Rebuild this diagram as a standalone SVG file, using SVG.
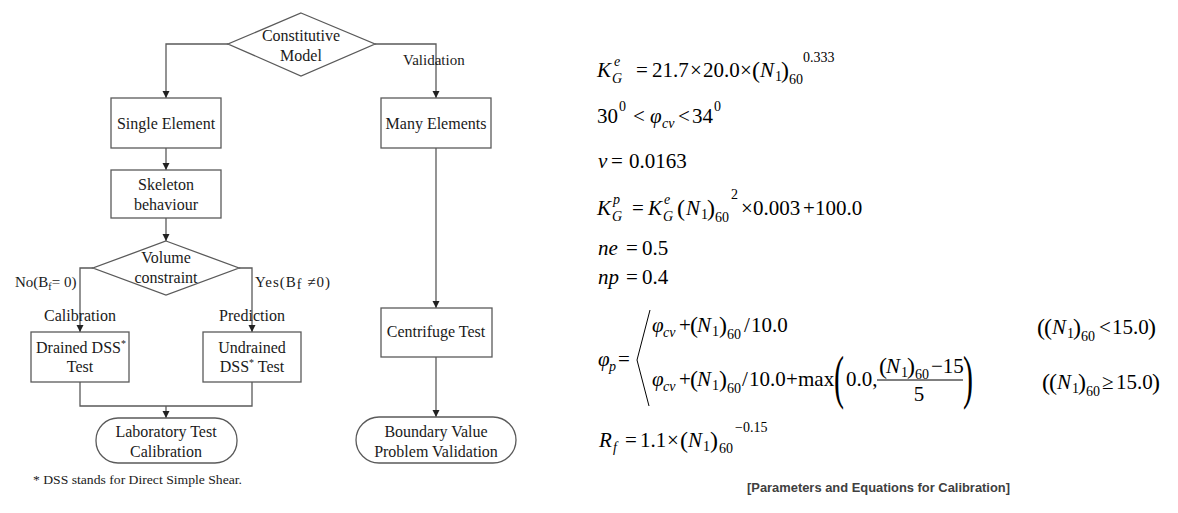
<svg xmlns="http://www.w3.org/2000/svg" width="1178" height="513" viewBox="0 0 1178 513">
<style>
.t{font-family:"Liberation Serif","Times New Roman",serif;font-size:16px;fill:#1a1a1a;text-anchor:middle}
.lbl{font-family:"Liberation Serif","Times New Roman",serif;font-size:15px;fill:#1a1a1a}
.box{fill:#fff;stroke:#5a5a5a;stroke-width:1.3}
.conn{fill:none;stroke:#5a5a5a;stroke-width:1.3}
.m{font-family:"Liberation Serif","Times New Roman",serif;font-size:21px;fill:#000}
.i{font-style:italic}
.s{font-size:14px}
.p{font-size:24px}
.big{font-size:60px}
.cap{font-family:"Liberation Sans",Arial,sans-serif;font-weight:bold;font-size:12.5px;fill:#404040}
</style>
<defs>
<marker id="ah" markerUnits="userSpaceOnUse" markerWidth="8" markerHeight="8" refX="7" refY="3.5" orient="auto">
<path d="M0,0 L7,3.5 L0,7 z" fill="#222"/>
</marker>
</defs>
<rect width="1178" height="513" fill="#fff"/>

<g id="connectors">
<path class="conn" d="M228,44 H166 V98" marker-end="url(#ah)"/>
<path class="conn" d="M375,44 H436 V98" marker-end="url(#ah)"/>
<path class="conn" d="M166,148 V170" marker-end="url(#ah)"/>
<path class="conn" d="M166,218 V241" marker-end="url(#ah)"/>
<path class="conn" d="M93,268 H80 V332" marker-end="url(#ah)"/>
<path class="conn" d="M239,268 H252 V332" marker-end="url(#ah)"/>
<path class="conn" d="M80,382 V406 H252 V382"/>
<path class="conn" d="M166,406 V418" marker-end="url(#ah)"/>
<path class="conn" d="M436,148 V308" marker-end="url(#ah)"/>
<path class="conn" d="M436,357 V417" marker-end="url(#ah)"/>
<text class="lbl" x="403" y="65">Validation</text>
<text class="lbl" x="15" y="287">No(B<tspan style="font-size:10px" dy="3">f</tspan><tspan dy="-3">= 0)</tspan></text>
<text class="lbl" x="255" y="287" textLength="75" lengthAdjust="spacing">Yes(B<tspan style="font-size:14px" dy="2">f</tspan><tspan dy="-2">  ≠0)</tspan></text>
<text class="t" x="80" y="321">Calibration</text>
<text class="t" x="252" y="321">Prediction</text>
</g>

<g id="n-constitutive">
<polygon class="box" points="301,13 375,44 301,76 228,44"/>
<text class="t" x="301" y="41">Constitutive</text>
<text class="t" x="301" y="61">Model</text>
</g>
<g id="n-single">
<rect class="box" x="111" y="98" width="110" height="50"/>
<text class="t" x="166" y="129">Single Element</text>
</g>
<g id="n-many">
<rect class="box" x="381" y="98" width="110" height="50"/>
<text class="t" x="436" y="129">Many Elements</text>
</g>
<g id="n-skeleton">
<rect class="box" x="111" y="170" width="110" height="48"/>
<text class="t" x="166" y="190">Skeleton</text>
<text class="t" x="166" y="210">behaviour</text>
</g>
<g id="n-volume">
<polygon class="box" points="166,241 239,268 166,295 93,268"/>
<text class="t" x="166" y="263">Volume</text>
<text class="t" x="166" y="283">constraint</text>
</g>
<g id="n-drained">
<rect class="box" x="31" y="332" width="98" height="50"/>
<text class="t" x="81" y="353">Drained DSS<tspan style="font-size:10px" dy="-6">*</tspan></text>
<text class="t" x="80" y="372">Test</text>
</g>
<g id="n-undrained">
<rect class="box" x="203" y="332" width="98" height="50"/>
<text class="t" x="252" y="353">Undrained</text>
<text class="t" x="252" y="372">DSS<tspan style="font-size:10px" dy="-6">*</tspan><tspan dy="6"> Test</tspan></text>
</g>
<g id="n-lab">
<rect class="box" x="96" y="418" width="141" height="45" rx="22" ry="22"/>
<text class="t" x="166" y="437">Laboratory Test</text>
<text class="t" x="166" y="457">Calibration</text>
</g>
<g id="n-centrifuge">
<rect class="box" x="381" y="308" width="111" height="49"/>
<text class="t" x="436" y="337">Centrifuge Test</text>
</g>
<g id="n-boundary">
<rect class="box" x="356" y="417" width="160" height="46" rx="23" ry="23"/>
<text class="t" x="436" y="437">Boundary Value</text>
<text class="t" x="436" y="457">Problem Validation</text>
</g>
<text x="33" y="484" textLength="209" lengthAdjust="spacingAndGlyphs" style="font-family:'Liberation Serif',serif;font-size:13px;fill:#1a1a1a">* DSS stands for Direct Simple Shear.</text>

<g id="equations">
<text class="m"><tspan class="i" x="597" y="77">K</tspan><tspan class="i s" x="612" y="83">G</tspan><tspan class="i s" x="614" y="66">e</tspan><tspan x="636" y="77">=</tspan><tspan x="652" y="77">21.7</tspan><tspan x="690" y="77">×</tspan><tspan x="703" y="77">20.0</tspan><tspan x="740" y="77">×</tspan><tspan class="p" x="752" y="78">(</tspan><tspan class="i" x="760" y="77">N</tspan><tspan class="s" x="775" y="81">1</tspan><tspan class="p" x="781" y="78">)</tspan><tspan class="s" x="789" y="84">60</tspan><tspan class="s" x="803" y="62">0.333</tspan></text>

<text class="m"><tspan x="597" y="123">30</tspan><tspan class="s" x="619" y="111">0</tspan><tspan x="633" y="123">&lt;</tspan><tspan class="i" x="650" y="123">φ</tspan><tspan class="i s" x="662" y="128">cv</tspan><tspan x="678" y="123">&lt;</tspan><tspan x="692" y="123">34</tspan><tspan class="s" x="714" y="111">0</tspan></text>

<text class="m"><tspan class="i" x="598" y="168">ν</tspan><tspan x="611" y="168">=</tspan><tspan x="629" y="168">0.0163</tspan></text>

<text class="m"><tspan class="i" x="597" y="215">K</tspan><tspan class="i s" x="613" y="204">p</tspan><tspan class="i s" x="612" y="221">G</tspan><tspan x="632" y="215">=</tspan><tspan class="i" x="648" y="215">K</tspan><tspan class="i s" x="664" y="204">e</tspan><tspan class="i s" x="663" y="221">G</tspan><tspan class="p" x="677" y="216">(</tspan><tspan class="i" x="686" y="215">N</tspan><tspan class="s" x="701" y="219">1</tspan><tspan class="p" x="707" y="216">)</tspan><tspan class="s" x="715" y="222">60</tspan><tspan class="s" x="731" y="199">2</tspan><tspan x="741" y="215">×</tspan><tspan x="753" y="215">0.003</tspan><tspan x="803" y="215">+</tspan><tspan x="815" y="215">100.0</tspan></text>

<text class="m"><tspan class="i" x="598" y="255">ne</tspan><tspan x="626" y="255">=</tspan><tspan x="642" y="255">0.5</tspan></text>
<text class="m"><tspan class="i" x="598" y="284">np</tspan><tspan x="626" y="284">=</tspan><tspan x="642" y="284">0.4</tspan></text>

<text class="m"><tspan class="i" x="598" y="366">φ</tspan><tspan class="i s" x="609" y="371">p</tspan><tspan x="618" y="366">=</tspan></text>
<polyline points="650,310 637,360 649,406" fill="none" stroke="#000" stroke-width="1"/>

<text class="m"><tspan class="i" x="652" y="332">φ</tspan><tspan class="i s" x="663" y="337">cv</tspan><tspan x="679" y="332">+</tspan><tspan class="p" x="690" y="333">(</tspan><tspan class="i" x="697" y="332">N</tspan><tspan class="s" x="712" y="336">1</tspan><tspan class="p" x="719" y="333">)</tspan><tspan class="s" x="727" y="339">60</tspan><tspan x="744" y="332">/</tspan><tspan x="751" y="332">10.0</tspan></text>

<text class="m"><tspan class="i" x="652" y="386">φ</tspan><tspan class="i s" x="663" y="391">cv</tspan><tspan x="679" y="386">+</tspan><tspan class="p" x="690" y="387">(</tspan><tspan class="i" x="697" y="386">N</tspan><tspan class="s" x="712" y="390">1</tspan><tspan class="p" x="719" y="387">)</tspan><tspan class="s" x="727" y="393">60</tspan><tspan x="742" y="386">/</tspan><tspan x="749" y="386">10.0</tspan><tspan x="786" y="386">+</tspan><tspan x="798" y="386">max</tspan><tspan x="846" y="386">0.0,</tspan></text>
<text class="m big" transform="translate(834,397) scale(0.5,1)">(</text>
<text class="m big" transform="translate(963,397) scale(0.5,1)">)</text>
<text class="m"><tspan class="p" x="879" y="374">(</tspan><tspan class="i" x="886" y="373">N</tspan><tspan class="s" x="901" y="377">1</tspan><tspan class="p" x="907" y="374">)</tspan><tspan class="s" x="915" y="379">60</tspan><tspan x="931" y="373">−15</tspan></text>
<line x1="877" y1="380" x2="963" y2="380" stroke="#000" stroke-width="1"/>
<text class="m" x="919" y="401" text-anchor="middle">5</text>

<text class="m"><tspan class="p" x="1037" y="335">(</tspan><tspan class="p" x="1044" y="335">(</tspan><tspan class="i" x="1052" y="334">N</tspan><tspan class="s" x="1067" y="338">1</tspan><tspan class="p" x="1073" y="335">)</tspan><tspan class="s" x="1081" y="341">60</tspan><tspan x="1099" y="334">&lt;</tspan><tspan x="1112" y="334">15.0</tspan><tspan class="p" x="1148" y="335">)</tspan></text>
<text class="m"><tspan class="p" x="1042" y="390">(</tspan><tspan class="p" x="1049" y="390">(</tspan><tspan class="i" x="1057" y="389">N</tspan><tspan class="s" x="1072" y="393">1</tspan><tspan class="p" x="1078" y="390">)</tspan><tspan class="s" x="1086" y="396">60</tspan><tspan x="1102" y="389">≥</tspan><tspan x="1116" y="389">15.0</tspan><tspan class="p" x="1152" y="390">)</tspan></text>

<text class="m"><tspan class="i" x="599" y="447">R</tspan><tspan class="i s" x="613" y="452">f</tspan><tspan x="625" y="447">=</tspan><tspan x="640" y="447">1.1</tspan><tspan x="667" y="447">×</tspan><tspan class="p" x="680" y="448">(</tspan><tspan class="i" x="688" y="447">N</tspan><tspan class="s" x="703" y="451">1</tspan><tspan class="p" x="710" y="448">)</tspan><tspan class="s" x="719" y="453">60</tspan><tspan class="s" x="735" y="432">−0.15</tspan></text>

<text class="cap" x="747" y="492" textLength="263" lengthAdjust="spacingAndGlyphs">[Parameters and Equations for Calibration]</text>
</g>
</svg>
